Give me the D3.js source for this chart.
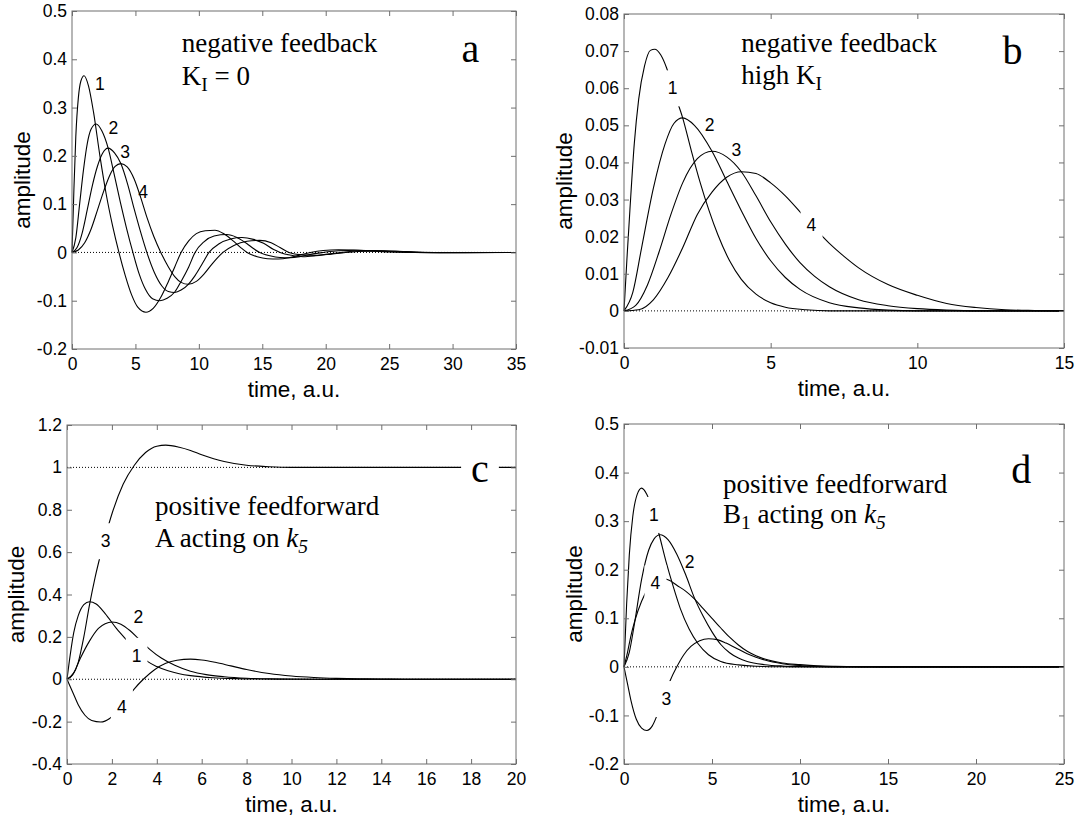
<!DOCTYPE html>
<html>
<head>
<meta charset="utf-8">
<script src="https://cdn.jsdelivr.net/npm/d3@7"></script>
<style>
  body { margin: 0; background: #fff; }
  text { fill: #000; }
</style>
</head>
<body>
<svg id="fig" width="1086" height="831"></svg>
<script>
// ---- values: [time, amplitude] ----

// panel a: negative feedback, K_I = 0
const aCurve1 = [[0,0],[0.15,0.13],[0.3,0.24],[0.5,0.32],[0.7,0.355],[0.95,0.366],[1.3,0.345],[1.7,0.29],[2.2,0.2],[2.7,0.12],[3.2,0.055],[3.7,0],[4.2,-0.048],[4.7,-0.088],[5.2,-0.114],[5.83,-0.124],[6.4,-0.116],[7,-0.093],[7.6,-0.06],[8.1,-0.03],[8.6,0],[9.2,0.024],[9.8,0.039],[10.5,0.045],[11.27,0.046],[12,0.038],[12.7,0.024],[13.3,0.01],[13.8,0],[14.6,-0.009],[15.4,-0.013],[16.26,-0.0135],[17.1,-0.011],[18,-0.005],[18.8,0],[19.8,0.004],[21,0.0055],[22.2,0.005],[23.5,0.003],[25,0.001],[27,0],[29,-0.0005],[31,0],[35,0]];
const aCurve2 = [[0,0],[0.3,0.03],[0.6,0.1],[0.9,0.17],[1.2,0.225],[1.5,0.255],[1.9,0.266],[2.35,0.252],[2.85,0.216],[3.3,0.165],[3.8,0.105],[4.3,0.05],[4.8,0],[5.3,-0.045],[5.8,-0.077],[6.35,-0.096],[6.93,-0.1],[7.5,-0.095],[8.1,-0.082],[8.6,-0.06],[9.2,-0.03],[9.7,0],[10.4,0.022],[11.2,0.034],[12.2,0.037],[13,0.031],[13.8,0.018],[14.3,0.008],[14.8,0],[15.6,-0.007],[16.4,-0.0105],[17.2,-0.011],[18.1,-0.008],[19,-0.003],[19.8,0],[21,0.0035],[22.5,0.0045],[24,0.003],[25.5,0.0015],[27,0],[30,-0.0005],[35,0]];
const aCurve3 = [[0,0],[0.4,0.01],[0.8,0.04],[1.2,0.088],[1.6,0.138],[2,0.178],[2.4,0.205],[2.85,0.216],[3.35,0.206],[3.85,0.184],[4.4,0.14],[4.9,0.09],[5.4,0.043],[5.9,0],[6.5,-0.042],[7.1,-0.07],[7.6,-0.081],[8.1,-0.083],[8.6,-0.078],[9.17,-0.066],[9.7,-0.048],[10.3,-0.022],[10.8,0],[11.6,0.018],[12.5,0.028],[13.4,0.031],[14.3,0.027],[15.1,0.019],[15.9,0.006],[16.4,0],[17.3,-0.006],[18.2,-0.009],[19.2,-0.007],[20.3,-0.003],[21.2,0],[22.5,0.003],[23.8,0.004],[25,0.003],[26.5,0.0015],[28,0],[31,-0.0005],[35,0]];
const aCurve4 = [[0,0],[0.5,0.005],[1,0.02],[1.5,0.048],[2,0.087],[2.5,0.127],[3,0.161],[3.4,0.178],[3.85,0.184],[4.35,0.177],[4.9,0.152],[5.4,0.115],[5.9,0.073],[6.45,0.033],[7,0],[7.6,-0.03],[8.1,-0.05],[8.6,-0.062],[9.17,-0.066],[9.8,-0.06],[10.4,-0.045],[11.1,-0.022],[11.9,0],[12.8,0.015],[13.8,0.023],[14.8,0.025],[15.7,0.02],[16.4,0.01],[17.1,0],[18.1,-0.005],[19.2,-0.006],[20.3,-0.004],[21.3,-0.001],[22.5,0.002],[24,0.003],[25.5,0.0025],[27,0.001],[29,0],[32,0],[35,0]];
const aXTicks = [0, 5, 10, 15, 20, 25, 30, 35];
const aYTicks = [-0.2, -0.1, 0, 0.1, 0.2, 0.3, 0.4, 0.5];
const aYTickLabels = ["-0.2", "-0.1", "0", "0.1", "0.2", "0.3", "0.4", "0.5"];
const aLabels = [
  { text: "1", t: 2.2, v: 0.35, gap: false },
  { text: "2", t: 3.26, v: 0.257, gap: false },
  { text: "3", t: 4.18, v: 0.208, gap: false },
  { text: "4", t: 5.6, v: 0.126, gap: false }
];

// panel b: negative feedback, high K_I
const bCurve1 = [[0,0],[0.1,0.014],[0.2,0.027],[0.35,0.045],[0.5,0.057],[0.7,0.066],[0.9,0.0702],[1.05,0.0705],[1.25,0.069],[1.45,0.0655],[1.7,0.059],[2,0.052],[2.3,0.043],[2.6,0.0345],[2.9,0.027],[3.2,0.0205],[3.6,0.0135],[4,0.0085],[4.5,0.0045],[5,0.0022],[5.5,0.001],[6.2,0.0003],[7,0],[15,0]];
const bCurve2 = [[0,0],[0.3,0.005],[0.6,0.017],[1,0.033],[1.4,0.045],[1.7,0.0505],[2,0.052],[2.4,0.05],[3,0.043],[3.5,0.035],[4,0.027],[4.5,0.0195],[5,0.0135],[5.5,0.009],[6,0.0058],[7,0.0022],[8,0.0008],[9,0.0002],[10,0],[15,0]];
const bCurve3 = [[0,0],[0.4,0.0015],[0.8,0.007],[1.2,0.016],[1.6,0.026],[2,0.0345],[2.5,0.041],[3,0.043],[3.5,0.0415],[4,0.0375],[4.5,0.031],[5,0.024],[5.5,0.018],[6,0.013],[6.5,0.0093],[7,0.0065],[8,0.003],[9,0.0014],[10,0.0006],[11,0.0002],[12,0],[15,0]];
const bCurve4 = [[0,0],[0.5,0.0003],[1,0.003],[1.5,0.009],[2,0.017],[2.5,0.026],[3,0.032],[3.5,0.036],[4,0.0375],[4.5,0.037],[5,0.0345],[5.5,0.031],[6,0.0267],[6.5,0.0223],[7,0.0182],[7.5,0.0147],[8,0.0116],[9,0.0071],[10,0.0042],[11,0.002],[12,0.0009],[13,0.0003],[14,0.0001],[15,0]];
const bXTicks = [0, 5, 10, 15];
const bYTicks = [-0.01, 0, 0.01, 0.02, 0.03, 0.04, 0.05, 0.06, 0.07, 0.08];
const bYTickLabels = ["-0.01", "0", "0.01", "0.02", "0.03", "0.04", "0.05", "0.06", "0.07", "0.08"];
const bLabels = [
  { text: "1", t: 1.66, v: 0.06, gap: true },
  { text: "2", t: 2.92, v: 0.05, gap: false },
  { text: "3", t: 3.83, v: 0.0433, gap: false },
  { text: "4", t: 6.39, v: 0.0231, gap: true }
];

// panel c: positive feedforward, A acting on k5
const cCurve1 = [[0,0],[0.15,0.12],[0.3,0.22],[0.5,0.3],[0.75,0.352],[1,0.366],[1.3,0.355],[1.7,0.31],[2.2,0.24],[2.7,0.18],[3,0.145],[3.3,0.11],[3.6,0.083],[4,0.06],[4.5,0.04],[5,0.026],[5.5,0.017],[6.5,0.007],[7.5,0.003],[9,0.001],[10,0],[20,0]];
const cCurve2 = [[0,0],[0.3,0.03],[0.6,0.1],[1,0.18],[1.4,0.24],[1.7,0.262],[2,0.27],[2.4,0.26],[2.8,0.23],[3.2,0.19],[3.7,0.14],[4.2,0.1],[4.8,0.066],[5.5,0.038],[6.2,0.022],[7,0.012],[8,0.005],[9,0.002],[10,0.001],[12,0],[20,0]];
const cCurve3 = [[0,0],[0.25,0.02],[0.5,0.08],[0.75,0.2],[1,0.35],[1.25,0.48],[1.5,0.59],[1.75,0.69],[2,0.78],[2.5,0.92],[3,1.01],[3.5,1.07],[4,1.1],[4.4,1.105],[5,1.095],[5.5,1.08],[6,1.06],[7,1.028],[8,1.01],[9,1.003],[10,1],[12,1],[20,1]];
const cCurve4 = [[0,0],[0.25,-0.06],[0.5,-0.12],[0.8,-0.17],[1.1,-0.195],[1.5,-0.202],[1.9,-0.185],[2.3,-0.14],[2.7,-0.085],[3,-0.045],[3.4,0],[3.9,0.045],[4.4,0.075],[4.9,0.09],[5.5,0.095],[6,0.091],[6.6,0.08],[7.3,0.063],[8,0.046],[9,0.027],[10,0.015],[11,0.008],[12,0.004],[13,0.002],[14,0.001],[15,0],[20,0]];
const cXTicks = [0, 2, 4, 6, 8, 10, 12, 14, 16, 18, 20];
const cYTicks = [-0.4, -0.2, 0, 0.2, 0.4, 0.6, 0.8, 1, 1.2];
const cYTickLabels = ["-0.4", "-0.2", "0", "0.2", "0.4", "0.6", "0.8", "1", "1.2"];
const cLabels = [
  { text: "3", t: 1.72, v: 0.652, gap: true },
  { text: "2", t: 3.18, v: 0.295, gap: false },
  { text: "1", t: 3.1, v: 0.111, gap: true },
  { text: "4", t: 2.44, v: -0.13, gap: true }
];

// panel d: positive feedforward, B1 acting on k5
const dCurve1 = [[0,0],[0.15,0.13],[0.3,0.23],[0.5,0.31],[0.75,0.355],[1,0.368],[1.3,0.355],[1.6,0.325],[2,0.272],[2.4,0.215],[2.8,0.165],[3.2,0.12],[3.7,0.078],[4.2,0.048],[4.8,0.025],[5.5,0.011],[6.5,0.004],[7.5,0.0012],[9,0.0002],[10,0],[25,0]];
const dCurve2 = [[0,0],[0.3,0.03],[0.6,0.09],[1,0.18],[1.4,0.24],[1.7,0.263],[2.05,0.272],[2.5,0.262],[3,0.232],[3.5,0.19],[4,0.142],[4.5,0.104],[5,0.072],[5.5,0.046],[6,0.029],[6.5,0.018],[7,0.011],[8,0.0045],[9,0.0018],[10,0.0007],[11,0.0002],[12,0],[25,0]];
const dCurve3 = [[0,0],[0.2,-0.035],[0.4,-0.07],[0.7,-0.108],[1,-0.126],[1.3,-0.131],[1.6,-0.122],[1.9,-0.098],[2.2,-0.068],[2.6,-0.03],[3,0],[3.4,0.025],[3.8,0.042],[4.3,0.054],[4.8,0.058],[5.3,0.056],[5.8,0.049],[6.3,0.04],[7,0.027],[7.5,0.02],[8,0.014],[9,0.0065],[10,0.0028],[11,0.0012],[12,0.0004],[13,0.0001],[14,0],[25,0]];
const dCurve4 = [[0,0],[0.2,0.03],[0.4,0.065],[0.6,0.093],[1,0.135],[1.4,0.163],[1.8,0.177],[2.2,0.182],[2.6,0.178],[3,0.168],[3.5,0.156],[4,0.14],[4.5,0.12],[5,0.1],[5.5,0.08],[6,0.061],[6.5,0.045],[7,0.032],[7.5,0.023],[8,0.016],[9,0.0078],[10,0.0045],[11,0.0021],[12,0.001],[13,0.0004],[14,0.0001],[15,0],[25,0]];
const dXTicks = [0, 5, 10, 15, 20, 25];
const dYTicks = [-0.2, -0.1, 0, 0.1, 0.2, 0.3, 0.4, 0.5];
const dYTickLabels = ["-0.2", "-0.1", "0", "0.1", "0.2", "0.3", "0.4", "0.5"];
const dLabels = [
  { text: "1", t: 1.7, v: 0.313, gap: true },
  { text: "2", t: 3.73, v: 0.216, gap: false },
  { text: "4", t: 1.78, v: 0.172, gap: true },
  { text: "3", t: 2.41, v: -0.066, gap: true }
];

// annotation texts (runs: sub = subscript, it = italic)
const aNote = [[{ s: "negative feedback" }], [{ s: "K" }, { s: "I", sub: true }, { s: " = 0" }]];
const bNote = [[{ s: "negative feedback" }], [{ s: "high K" }, { s: "I", sub: true }]];
const cNote = [[{ s: "positive feedforward" }], [{ s: "A acting on " }, { s: "k", it: true }, { s: "5", sub: true, it: true }]];
const dNote = [[{ s: "positive feedforward" }], [{ s: "B" }, { s: "1", sub: true }, { s: " acting on " }, { s: "k", it: true }, { s: "5", sub: true, it: true }]];

// ---- drawing ----
const svg = d3.select("#fig");
const SANS = "'Liberation Sans', Arial, Helvetica, sans-serif";
const SERIF = "'Liberation Serif', 'Times New Roman', serif";
const frameColor = "#6e6e6e";
const tickFont = 17.5;
const titleFont = 22.5;
const noteFont = 27;

function drawPanel(p) {
  const x = d3.scaleLinear().domain([p.xTicks[0], p.xTicks[p.xTicks.length - 1]]).range([p.left, p.right]);
  const y = d3.scaleLinear().domain([p.yTicks[0], p.yTicks[p.yTicks.length - 1]]).range([p.bottom, p.top]);
  const g = svg.append("g");

  // dotted reference lines
  p.refLines.forEach(v => {
    g.append("line")
      .attr("x1", p.left).attr("x2", p.right)
      .attr("y1", y(v)).attr("y2", y(v))
      .attr("stroke", "#000").attr("stroke-width", 1)
      .attr("stroke-dasharray", "1,2");
  });

  const line = d3.line().x(d => x(d[0])).y(d => y(d[1])).curve(d3.curveMonotoneX);
  const gCurves = g.append("g");
  p.curves.forEach(c => {
    gCurves.append("path")
      .attr("d", line(c))
      .attr("fill", "none")
      .attr("stroke", "#000")
      .attr("stroke-width", 1.1);
  });

  // axes: ticks inside on all four sides
  const tickLen = 5;
  const axB = d3.axisBottom(x).tickValues(p.xTicks).tickFormat(d => String(d)).tickSizeInner(-tickLen).tickSizeOuter(0).tickPadding(9);
  const axT = d3.axisTop(x).tickValues(p.xTicks).tickFormat("").tickSizeInner(-tickLen).tickSizeOuter(0);
  const axL = d3.axisLeft(y).tickValues(p.yTicks).tickFormat((d, i) => p.yTickLabels[i]).tickSizeInner(-tickLen).tickSizeOuter(0).tickPadding(5);
  const axR = d3.axisRight(y).tickValues(p.yTicks).tickFormat("").tickSizeInner(-tickLen).tickSizeOuter(0);

  const axes = [
    g.append("g").attr("transform", `translate(0,${p.bottom})`).call(axB),
    g.append("g").attr("transform", `translate(0,${p.top})`).call(axT),
    g.append("g").attr("transform", `translate(${p.left},0)`).call(axL),
    g.append("g").attr("transform", `translate(${p.right},0)`).call(axR)
  ];
  axes.forEach(a => {
    a.select(".domain").remove();
    a.selectAll(".tick line").attr("stroke", frameColor);
    a.selectAll(".tick text").attr("font-family", SANS).attr("font-size", tickFont).attr("fill", "#000");
  });
  g.append("rect")
    .attr("x", p.left).attr("y", p.top)
    .attr("width", p.right - p.left).attr("height", p.bottom - p.top)
    .attr("fill", "none").attr("stroke", frameColor).attr("stroke-width", 1);

  // axis titles
  let maxW = 0;
  axes[2].selectAll(".tick text").each(function () { maxW = Math.max(maxW, this.getBBox().width); });
  g.append("text")
    .attr("transform", `translate(${p.left - 5 - maxW - 15},${(p.top + p.bottom) / 2}) rotate(-90)`)
    .attr("text-anchor", "middle").attr("dy", "0.35em")
    .attr("font-family", SANS).attr("font-size", titleFont)
    .text("amplitude");
  g.append("text")
    .attr("x", (p.left + p.right) / 2).attr("y", p.bottom + 48)
    .attr("text-anchor", "middle")
    .attr("font-family", SANS).attr("font-size", titleFont)
    .text("time, a.u.");

  const gKnock = g.append("g");
  const gText = g.append("g");

  // white box behind a label, breaking the curves that run under it
  function knockout(node, padX, padY) {
    const b = node.getBBox();
    gKnock.append("rect")
      .attr("x", b.x - padX).attr("y", b.y - padY)
      .attr("width", b.width + 2 * padX).attr("height", b.height + 2 * padY)
      .attr("fill", "#fff");
  }

  // curve numbers
  p.labels.forEach(l => {
    const t = gText.append("text")
      .attr("x", x(l.t)).attr("y", y(l.v)).attr("dy", "0.35em")
      .attr("text-anchor", "middle")
      .attr("font-family", SANS).attr("font-size", tickFont)
      .text(l.text);
    if (l.gap) knockout(t.node(), 6, 8);
  });

  // annotation lines
  p.note.forEach((runs, i) => {
    const t = gText.append("text")
      .attr("x", x(p.noteT)).attr("y", y(p.noteV[i]))
      .attr("font-family", SERIF).attr("font-size", noteFont);
    let shift = 0;
    runs.forEach(r => {
      const target = r.sub ? 6 : 0;
      const ts = t.append("tspan").text(r.s).attr("dy", target - shift);
      if (r.sub) ts.attr("font-size", 19.5);
      if (r.it) ts.attr("font-style", "italic");
      shift = target;
    });
  });

  // panel letter
  const letter = gText.append("text")
    .attr("x", x(p.letterT)).attr("y", y(p.letterV))
    .attr("font-family", SERIF).attr("font-size", 40)
    .text(p.letter);
  if (p.letterGap) knockout(letter.node(), 10, 10);
}

drawPanel({
  left: 72, right: 516, top: 11, bottom: 349,
  xTicks: aXTicks, yTicks: aYTicks, yTickLabels: aYTickLabels,
  curves: [aCurve1, aCurve2, aCurve3, aCurve4], refLines: [0], labels: aLabels,
  note: aNote, noteT: 8.65, noteV: [0.4155, 0.3466],
  letter: "a", letterT: 30.7, letterV: 0.395, letterGap: false
});
drawPanel({
  left: 624, right: 1064, top: 14, bottom: 348,
  xTicks: bXTicks, yTicks: bYTicks, yTickLabels: bYTickLabels,
  curves: [bCurve1, bCurve2, bCurve3, bCurve4], refLines: [0], labels: bLabels,
  note: bNote, noteT: 4.0, noteV: [0.0697, 0.0611],
  letter: "b", letterT: 12.9, letterV: 0.0664, letterGap: false
});
drawPanel({
  left: 67, right: 516, top: 425, bottom: 764,
  xTicks: cXTicks, yTicks: cYTicks, yTickLabels: cYTickLabels,
  curves: [cCurve1, cCurve2, cCurve3, cCurve4], refLines: [0, 1], labels: cLabels,
  note: cNote, noteT: 3.92, noteV: [0.775, 0.625],
  letter: "c", letterT: 18.0, letterV: 0.93, letterGap: true
});
drawPanel({
  left: 624, right: 1064, top: 424, bottom: 764,
  xTicks: dXTicks, yTicks: dYTicks, yTickLabels: dYTickLabels,
  curves: [dCurve1, dCurve2, dCurve3, dCurve4], refLines: [0], labels: dLabels,
  note: dNote, noteT: 5.63, noteV: [0.3577, 0.2957],
  letter: "d", letterT: 22.0, letterV: 0.379, letterGap: false
});
</script>
</body>
</html>
